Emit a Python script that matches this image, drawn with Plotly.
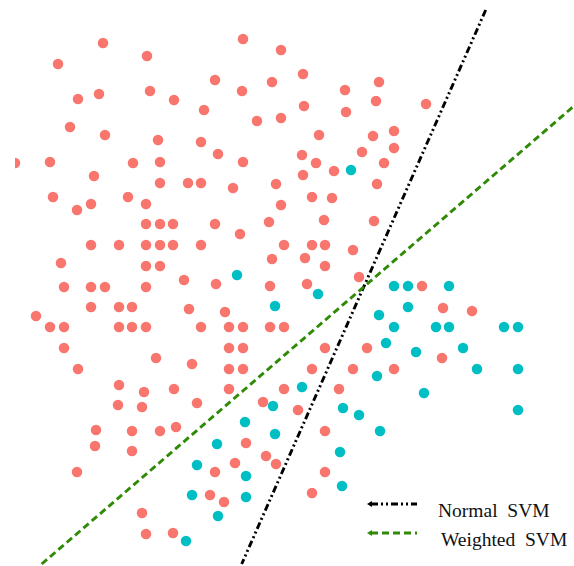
import plotly.graph_objects as go

# Class A samples (majority class) - screen-style coordinates, y grows downward
class_a_x = [103, 147, 58, 78, 99, 150, 174, 70, 105, 158, 201, 15, 50, 133, 160, 94, 160, 188, 201,
             243, 281, 215, 272, 303, 242, 345, 379, 204, 304, 346, 376, 257, 281, 319, 373, 218, 243,
             302, 316, 362, 384, 334, 303, 233, 276, 377, 426, 394, 394,
             53, 128, 77, 91, 146, 146, 160, 173, 91, 119, 146, 160, 173, 201, 61, 146, 160, 184, 64,
             91, 105, 146, 91, 119, 132, 189, 36, 50, 64, 119, 132, 146, 201, 64, 156, 192, 78,
             312, 332, 281, 215, 240, 269, 324, 374, 284, 312, 325, 353, 272, 305, 325, 216, 270, 307,
             359, 225, 229, 243, 270, 284, 229, 243, 325, 367, 229, 243, 312, 353,
             422, 443, 472, 442, 394,
             119, 144, 174, 197, 118, 142, 96, 132, 160, 176, 95, 132, 77, 142, 146, 173,
             229, 284, 339, 263, 298, 325, 246, 215, 235, 266, 276, 325, 210, 224, 312]
class_a_y = [43, 56, 64, 99, 94, 91, 100, 127, 135, 140, 142, 163, 162, 163, 162, 176, 183, 183, 183,
             39, 50, 80, 82, 74, 91, 90, 82, 110, 106, 112, 101, 121, 118, 135, 136, 154, 162,
             155, 163, 152, 163, 171, 175, 188, 184, 184, 104, 131, 148,
             197, 197, 210, 204, 204, 224, 224, 224, 245, 245, 245, 245, 245, 245, 263, 266, 266, 280, 287,
             287, 287, 287, 307, 307, 307, 309, 316, 327, 327, 327, 327, 327, 327, 348, 358, 364, 369,
             197, 198, 205, 224, 234, 222, 220, 221, 245, 245, 245, 250, 259, 258, 266, 284, 286, 284,
             277, 312, 327, 327, 327, 327, 348, 348, 348, 348, 369, 369, 369, 369,
             286, 308, 311, 358, 369,
             385, 392, 389, 403, 405, 407, 430, 431, 431, 427, 446, 451, 472, 513, 534, 533,
             389, 389, 389, 402, 410, 431, 443, 472, 463, 456, 464, 472, 495, 502, 493]

# Class B samples (minority class)
class_b_x = [351, 237, 318, 275, 379, 386, 377,
             394, 408, 449, 408, 394, 436, 449, 504, 518, 416, 463, 477, 518,
             302, 273, 343, 359, 245, 275, 380, 217, 340, 197, 246, 342, 192, 246, 218, 186,
             424, 518]
class_b_y = [170, 275, 294, 306, 315, 343, 376,
             286, 286, 286, 307, 327, 327, 327, 327, 327, 352, 348, 369, 369,
             387, 406, 408, 415, 422, 434, 431, 444, 452, 465, 476, 486, 495, 497, 516, 541,
             393, 410]

# Decision boundaries (end points of each separating line)
normal_svm_x = [485.7, 241.7]
normal_svm_y = [10, 564]
weighted_svm_x = [41.7, 574]
weighted_svm_y = [564, 106]

legend_labels = ["Normal\u00a0\u00a0SVM", "Weighted\u00a0\u00a0SVM"]

PINK = "#F8766D"
TEAL = "#00BFC4"
BLACK = "#000000"
GREEN = "#2F8A06"
BLACK_DASH = "7px,3px,2px,3px,2px,3px"
GREEN_DASH = "7px,4px"
LINE_W = 2.9

fig = go.Figure()
fig.add_trace(go.Scatter(x=class_a_x, y=class_a_y, mode="markers",
                         marker=dict(color=PINK, size=10.5), showlegend=False))
fig.add_trace(go.Scatter(x=class_b_x, y=class_b_y, mode="markers",
                         marker=dict(color=TEAL, size=10.5), showlegend=False))
fig.add_trace(go.Scatter(x=normal_svm_x, y=normal_svm_y, mode="lines",
                         line=dict(color=BLACK, width=LINE_W, dash=BLACK_DASH), showlegend=False))
fig.add_trace(go.Scatter(x=weighted_svm_x, y=weighted_svm_y, mode="lines",
                         line=dict(color=GREEN, width=LINE_W, dash=GREEN_DASH), showlegend=False))

# Hand-drawn legend in the lower-right corner
legend_rows = [(504, BLACK, BLACK_DASH, 436), (533, GREEN, GREEN_DASH, 439)]
for (ly, col, dash, tx), label in zip(legend_rows, legend_labels):
    fig.add_shape(type="line", x0=371, x1=417, y0=ly, y1=ly, xref="x", yref="y",
                  line=dict(color=col, width=LINE_W, dash=dash))
    fig.add_shape(type="path", xref="x", yref="y",
                  path=f"M 367 {ly} L 372 {ly - 3} L 372 {ly + 3} Z",
                  fillcolor=col, line=dict(color=col, width=0))
    fig.add_annotation(x=tx, y=ly + 6, xref="x", yref="y", text=label, showarrow=False,
                       xanchor="left", yanchor="middle",
                       font=dict(family="Liberation Serif", size=19.5, color="#111111"))

fig.update_xaxes(range=[15, 574], visible=False, showgrid=False, zeroline=False)
fig.update_yaxes(range=[566, 0], visible=False, showgrid=False, zeroline=False)
fig.update_layout(width=574, height=566, margin=dict(l=15, r=0, t=0, b=0),
                  paper_bgcolor="white", plot_bgcolor="white")

fig.write_html("out.html")
